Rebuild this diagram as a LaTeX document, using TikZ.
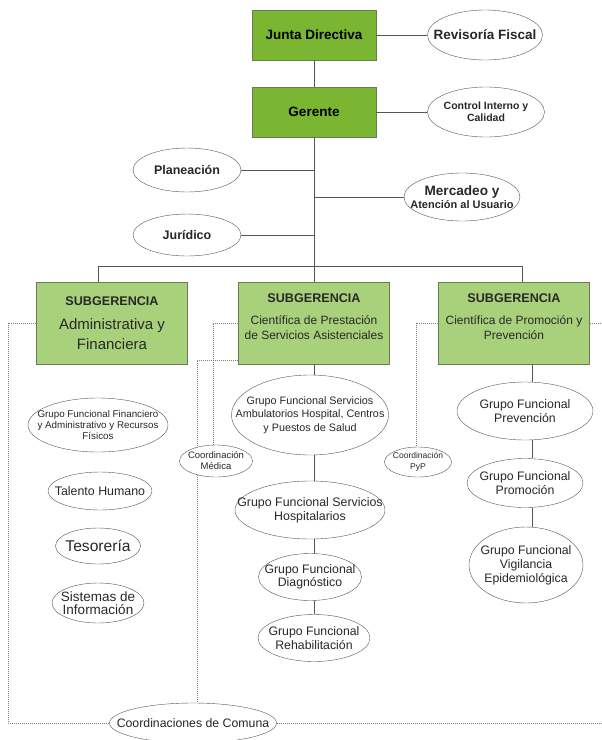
\documentclass[tikz,border=0pt]{standalone}
\usepackage{fontspec}
\setmainfont{Liberation Sans}
\usetikzlibrary{backgrounds,shapes.geometric}
\definecolor{topgreen}{RGB}{122,182,50}
\definecolor{subgreen}{RGB}{169,209,124}
\definecolor{boxline}{RGB}{105,125,85}
\definecolor{lineg}{RGB}{85,85,85}
\definecolor{textg}{RGB}{40,40,40}
\tikzset{
  fsz/.style 2 args={font=\fontsize{#1}{#2}\selectfont},
  bfsz/.style 2 args={font=\bfseries\fontsize{#1}{#2}\selectfont},
  topbox/.style={draw=boxline, fill=topgreen, minimum width=124, minimum height=50, inner sep=0, bfsz={13.5}{16}},
  subbox/.style={draw=boxline, fill=subgreen, minimum width=151, minimum height=82, inner sep=0, align=center, text=textg, fsz={12}{15}},
  oval/.style 2 args={ellipse, draw=lineg, fill=white, inner sep=-60pt, minimum width=#1, minimum height=#2, align=center, text=textg},
  link/.style={draw=lineg, line width=0.6pt},
  dots/.style={draw=gray, dash pattern=on 1pt off 1pt, line width=0.6pt},
}
\begin{document}
\begin{tikzpicture}[x=1pt, y=-1pt]
	\useasboundingbox (0,0) rectangle (602,740);
	% direccion
	\node[topbox] (jd) at (314,35) {Junta Directiva};
	\node[oval={115}{50}, bfsz={13.5}{16}] (rev) at (485,35) {Revisoría Fiscal};
	\node[topbox] (ger) at (314,112) {Gerente};
	\node[oval={117}{50}, bfsz={10.5}{11.7}] (cic) at (486,112) {Control Interno y\\Calidad};
	\node[oval={108}{44}, bfsz={12.5}{15}] (plan) at (187,170) {Planeación};
	\node[oval={116}{48}, bfsz={11}{13.3}] (merc) at (462,197) {{\fontsize{13.6}{15}\selectfont Mercadeo y}\\Atención al Usuario};
	\node[oval={108}{42}, bfsz={12.5}{15}] (jur) at (187,235) {Jurídico};
	% subgerencias
	\node[subbox] (sub1) at (112,323) {{\bfseries\fontsize{12.6}{15}\selectfont SUBGERENCIA}\\[9pt]{\fontsize{15}{20}\selectfont Administrativa y}\\[5pt]{\fontsize{15}{20}\selectfont Financiera}};
	\node[subbox, text depth=12pt] (sub2) at (314,323) {{\bfseries\fontsize{12.6}{15}\selectfont SUBGERENCIA}\\[7pt]Científica de Prestación\\de Servicios Asistenciales};
	\node[subbox, text depth=12pt] (sub3) at (514,323) {{\bfseries\fontsize{12.6}{15}\selectfont SUBGERENCIA}\\[7pt]Científica de Promoción y\\Prevención};
	% administrativa
	\node[oval={140}{54}, fsz={9.8}{10.7}] (fin) at (98,425) {Grupo Funcional Financiero\\y Administrativo y Recursos\\Físicos};
	\node[oval={104}{38}, fsz={12.4}{15}] (tal) at (100,491) {Talento Humano};
	\node[oval={85}{36}, fsz={15.6}{18}] (tes) at (98,546) {Tesorería};
	\node[oval={92}{40}, fsz={13.5}{13.3}] (sis) at (98,603) {Sistemas de\\Información};
	\node[oval={167}{40}, fsz={12.3}{15}] (com) at (193,723) {Coordinaciones de Comuna};
	\node[oval={73}{32}, fsz={9.5}{11}] (med) at (216,461) {Coordinación\\Médica};
	\node[oval={67}{30}, fsz={8.5}{11}] (pyp) at (418,462) {Coordinación\\PyP};
	% asistenciales
	\node[oval={157}{80}, fsz={10.8}{13.3}] (amb) at (310,415) {Grupo Funcional Servicios\\Ambulatorios Hospital, Centros\\y Puestos de Salud};
	\node[oval={150}{58}, fsz={12.4}{14.3}] (hosp) at (310,510) {Grupo Funcional Servicios\\Hospitalarios};
	\node[oval={103}{47}, fsz={12.3}{13.3}] (diag) at (310,577) {Grupo Funcional\\Diagnóstico};
	\node[oval={112}{47}, fsz={12.3}{13.3}] (rehab) at (314,638) {Grupo Funcional\\Rehabilitación};
	% promocion y prevencion
	\node[oval={136}{58}, fsz={12.3}{13.3}] (prev) at (525,411) {Grupo Funcional\\Prevención};
	\node[oval={116}{49}, fsz={12.3}{13.3}] (prom) at (525,483) {Grupo Funcional\\Promoción};
	\node[oval={114}{76}, fsz={12.3}{14}] (vig) at (526,565) {Grupo Funcional\\Vigilancia\\Epidemiológica};
	% lineas
	\draw[link] (jd) -- (rev);
	\draw[link] (jd) -- (ger);
	\draw[link] (ger) -- (cic);
	\coordinate (bus) at (314,266);
	\coordinate (busl) at (98,266);
	\coordinate (busr) at (522,266);
	\draw[link] (ger) -- (bus);
	\draw[link] (plan) -- (plan -| bus);
	\draw[link] (merc) -- (merc -| bus);
	\draw[link] (jur) -- (jur -| bus);
	\draw[link] (sub1.north -| busl) -- (busl) -- (busr) -- (sub3.north -| busr);
	\draw[link] (bus) -- (sub2);
	\coordinate (mcol) at (314,0);
	\coordinate (rcol) at (532,0);
	\foreach \a/\b in {sub2/amb, amb/hosp, hosp/diag, diag/rehab}
		\draw[link] (\a.south -| mcol) -- (\b.north -| mcol);
	\foreach \a/\b in {sub3/prev, prev/prom, prom/vig}
		\draw[link] (\a.south -| rcol) -- (\b.north -| rcol);
	% coordinaciones
	\begin{pgfonlayer}{background}
		\coordinate (lm) at (8,0);
		\coordinate (rm) at (602,0);
		\coordinate (mx) at (213,0);
		\coordinate (dx) at (197,0);
		\coordinate (px) at (416,0);
		\coordinate (sb) at ([yshift=4pt]sub2.south west);
		\draw[dots] (sub1.west) -- (sub1.west -| lm) -- (com.west -| lm) -- (com.west);
		\draw[dots] (sub2.west) -- (sub2.west -| mx) -- (med.north -| mx);
		\draw[dots] (sb) -- (sb -| dx) -- (com.north -| dx);
		\draw[dots] (sub3.west) -- (sub3.west -| px) -- (pyp.north -| px);
		\draw[dots] (sub3.east) -- (sub3.east -| rm);
		\draw[dots] (com.east) -- (com.east -| rm);
	\end{pgfonlayer}
\end{tikzpicture}
\end{document}
